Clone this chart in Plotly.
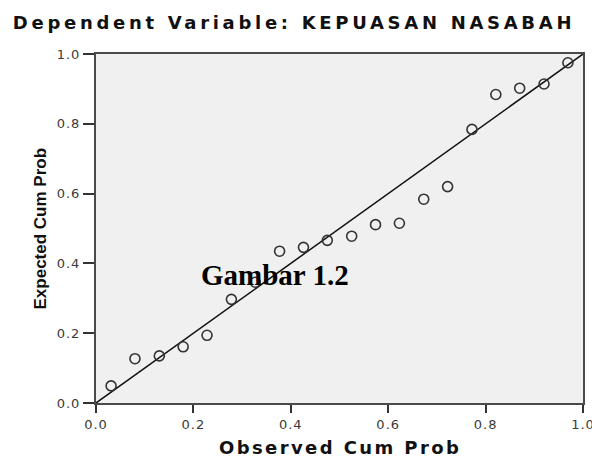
import plotly.graph_objects as go

observed = [0.031, 0.080, 0.130, 0.179, 0.228, 0.278, 0.327, 0.377, 0.426, 0.475,
            0.525, 0.574, 0.623, 0.673, 0.722, 0.772, 0.821, 0.870, 0.920, 0.969]
expected = [0.049, 0.127, 0.135, 0.161, 0.194, 0.297, 0.346, 0.435, 0.446, 0.466,
            0.478, 0.511, 0.515, 0.584, 0.620, 0.784, 0.884, 0.902, 0.914, 0.975]
tick_vals = [0.0, 0.2, 0.4, 0.6, 0.8, 1.0]
tick_text = ["0.0", "0.2", "0.4", "0.6", "0.8", "1.0"]
title_text = "Dependent Variable: KEPUASAN NASABAH"
x_title = "Observed Cum Prob"
y_title = "Expected Cum Prob"
label_text = "Gambar 1.2"

def spaced(s, px):
    return '<span style="letter-spacing:%spx">%s</span>' % (px, s)

fig = go.Figure()
fig.add_trace(go.Scatter(x=[0, 1], y=[0, 1], mode="lines",
                         line=dict(color="#111111", width=1.5), hoverinfo="skip"))
fig.add_trace(go.Scatter(x=observed, y=expected, mode="markers",
                         marker=dict(symbol="circle-open", size=10, color="#333333",
                                     line=dict(color="#333333", width=1.6))))

axis_common = dict(range=[0, 1], tickvals=tick_vals,
                   ticktext=[spaced(t, 1) for t in tick_text],
                   showgrid=False, zeroline=False, showline=True, mirror=True,
                   linecolor="#4a4a4a", linewidth=2, ticks="outside",
                   tickcolor="#333333", tickwidth=2, ticklabeloverflow="allow",
                   automargin=False,
                   tickfont=dict(family="DejaVu Sans", size=13, color="#3a3a3a"))

fig.update_layout(
    width=592, height=457,
    margin=dict(l=96, r=9, t=54, b=54),
    paper_bgcolor="white", plot_bgcolor="#f0f0f0",
    showlegend=False,
    title=dict(text=spaced(title_text, 3.7), x=294/592, xanchor="center",
               y=1 - 23/457, yanchor="middle", yref="container",
               font=dict(family="DejaVu Sans", size=18, color="#111111", weight="bold")),
    xaxis=dict(**axis_common, ticklen=8),
    yaxis=dict(**axis_common, ticklen=11),
    annotations=[
        dict(text=spaced(x_title, 2.4), x=0.5, y=-(447 - 403) / 349, xref="paper", yref="paper",
             xanchor="center", yanchor="middle", showarrow=False,
             font=dict(family="DejaVu Sans", size=18, color="#111111", weight="bold")),
        dict(text=y_title, x=(40 - 96) / 487, y=0.5, xref="paper", yref="paper",
             xanchor="center", yanchor="middle", showarrow=False, textangle=-90,
             font=dict(family="Liberation Sans", size=17, color="#111111", weight="bold")),
        dict(text=label_text, x=0.3676, y=0.368, xref="x", yref="y",
             xanchor="center", yanchor="middle", showarrow=False,
             font=dict(family="Liberation Serif", size=29, color="#000000", weight="bold")),
    ],
)

fig.write_html("out.html", config={"displayModeBar": False},
               post_script="document.body.style.margin='0';document.body.style.overflow='hidden';")
